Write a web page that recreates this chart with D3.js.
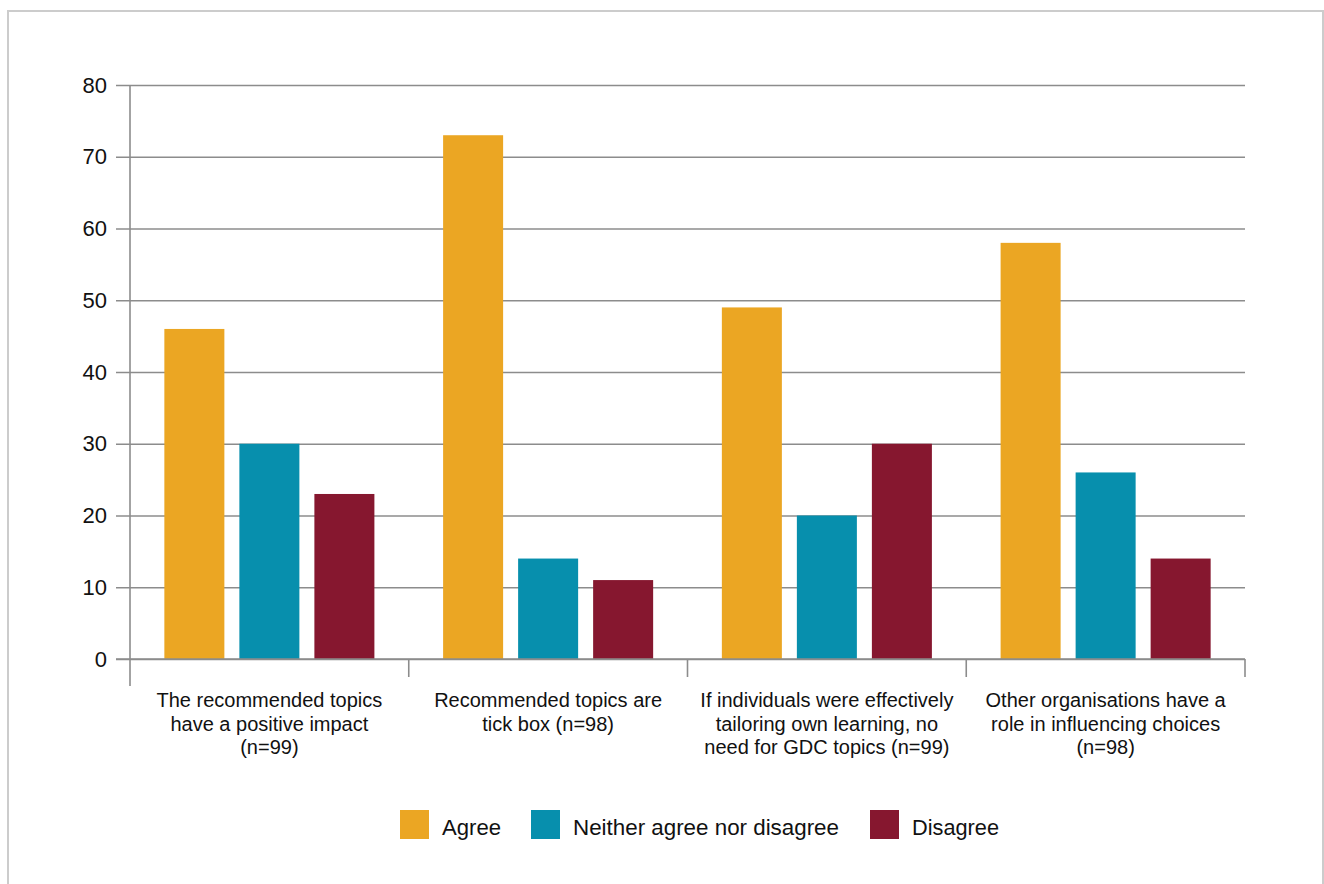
<!DOCTYPE html>
<html>
<head>
<meta charset="utf-8">
<script src="https://cdn.jsdelivr.net/npm/d3@7"></script>
<style>
  html, body { margin: 0; padding: 0; background: #fff; }
  svg { display: block; font-family: "Liberation Sans", Arial, Helvetica, sans-serif; }
</style>
</head>
<body>
<svg id="chart" width="1324" height="884"></svg>
<script>
// Survey statements (x-axis categories), wrapped lines per label
const categories = [
  "The recommended topics have a positive impact (n=99)",
  "Recommended topics are tick box (n=98)",
  "If individuals were effectively tailoring own learning, no need for GDC topics (n=99)",
  "Other organisations have a role in influencing choices (n=98)"
];
const categoryLines = [
  ["The recommended topics", "have a positive impact", "(n=99)"],
  ["Recommended topics are", "tick box (n=98)"],
  ["If individuals were effectively", "tailoring own learning, no", "need for GDC topics (n=99)"],
  ["Other organisations have a", "role in influencing choices", "(n=98)"]
];

// Response series
const seriesNames = ["Agree", "Neither agree nor disagree", "Disagree"];
const agree    = [46, 73, 49, 58];
const neither  = [30, 14, 20, 26];
const disagree = [23, 11, 30, 14];
const seriesColors = ["#eba623", "#078fad", "#86172f"];

const yTicks = [0, 10, 20, 30, 40, 50, 60, 70, 80];

const values = [agree, neither, disagree];

const svg = d3.select("#chart");

// Outer frame (open at the bottom edge of the page)
svg.append("path")
  .attr("d", "M8,890 L8,11 L1323,11 L1323,890")
  .attr("fill", "none")
  .attr("stroke", "#cccccc")
  .attr("stroke-width", 2);

const plot = { left: 130, right: 1245, top: 85, bottom: 659 };

const x0 = d3.scaleBand()
  .domain(categories)
  .range([plot.left, plot.right])
  .paddingInner(0)
  .paddingOuter(0);

const x1 = d3.scaleBand()
  .domain(seriesNames)
  .range([0, x0.bandwidth()])
  .paddingInner(0.2)
  .paddingOuter(0.458);

const y = d3.scaleLinear()
  .domain([0, 80])
  .range([plot.bottom, plot.top]);

const gridColor = "#8c8c8c";

// Horizontal gridlines with left-pointing ticks
const yAxis = d3.axisLeft(y)
  .tickValues(yTicks)
  .tickSize(plot.right - plot.left + 14)
  .tickPadding(9)
  .tickFormat(d3.format("d"));

const gy = svg.append("g")
  .attr("transform", `translate(${plot.right},0)`)
  .call(yAxis);
gy.select(".domain").remove();
gy.selectAll(".tick line")
  .attr("stroke", gridColor)
  .attr("stroke-width", 1.6);
gy.selectAll(".tick text")
  .attr("fill", "#111")
  .attr("font-size", 22)
  .attr("font-family", "\"Liberation Sans\", Arial, sans-serif");

// Vertical axis line
svg.append("line")
  .attr("x1", plot.left).attr("x2", plot.left)
  .attr("y1", plot.top).attr("y2", plot.bottom + 27)
  .attr("stroke", gridColor)
  .attr("stroke-width", 1.6);

// Category separator ticks below the baseline
const boundaries = categories.map(c => x0(c) + x0.bandwidth());
svg.append("g")
  .selectAll("line")
  .data(boundaries)
  .join("line")
  .attr("x1", d => d).attr("x2", d => d)
  .attr("y1", plot.bottom).attr("y2", plot.bottom + 18)
  .attr("stroke", gridColor)
  .attr("stroke-width", 1.6);

// Bars
const groups = svg.append("g")
  .selectAll("g")
  .data(categories)
  .join("g")
  .attr("transform", d => `translate(${x0(d)},0)`);

groups.selectAll("rect")
  .data((c, i) => seriesNames.map((s, k) => ({ s, v: values[k][i], k })))
  .join("rect")
  .attr("x", d => x1(d.s))
  .attr("width", x1.bandwidth())
  .attr("y", d => y(d.v))
  .attr("height", d => y(0) - y(d.v))
  .attr("fill", d => seriesColors[d.k]);

// Redraw baseline above bars
svg.append("line")
  .attr("x1", plot.left - 14).attr("x2", plot.right)
  .attr("y1", y(0)).attr("y2", y(0))
  .attr("stroke", gridColor)
  .attr("stroke-width", 1.6);

// Category labels
const labels = svg.append("g")
  .selectAll("text")
  .data(categories)
  .join("text")
  .attr("x", d => x0(d) + x0.bandwidth() / 2)
  .attr("y", 707)
  .attr("text-anchor", "middle")
  .attr("font-size", 20)
  .attr("fill", "#111");
labels.each(function(d, i) {
  d3.select(this).selectAll("tspan")
    .data(categoryLines[i])
    .join("tspan")
    .attr("x", x0(d) + x0.bandwidth() / 2)
    .attr("dy", (t, j) => j === 0 ? 0 : 23.5)
    .text(t => t);
});

// Legend
const legendX = [400, 531, 870];
const legendTextWidth = [59, 266, 87];
const legend = svg.append("g")
  .selectAll("g")
  .data(seriesNames)
  .join("g")
  .attr("transform", (d, i) => `translate(${legendX[i]},810)`);
legend.append("rect")
  .attr("width", 29)
  .attr("height", 29)
  .attr("fill", (d, i) => seriesColors[i]);
legend.append("text")
  .attr("x", 42)
  .attr("y", 25)
  .attr("font-size", 22.5)
  .attr("fill", "#111")
  .attr("textLength", (d, i) => legendTextWidth[i])
  .attr("lengthAdjust", "spacingAndGlyphs")
  .text(d => d);
</script>
</body>
</html>
